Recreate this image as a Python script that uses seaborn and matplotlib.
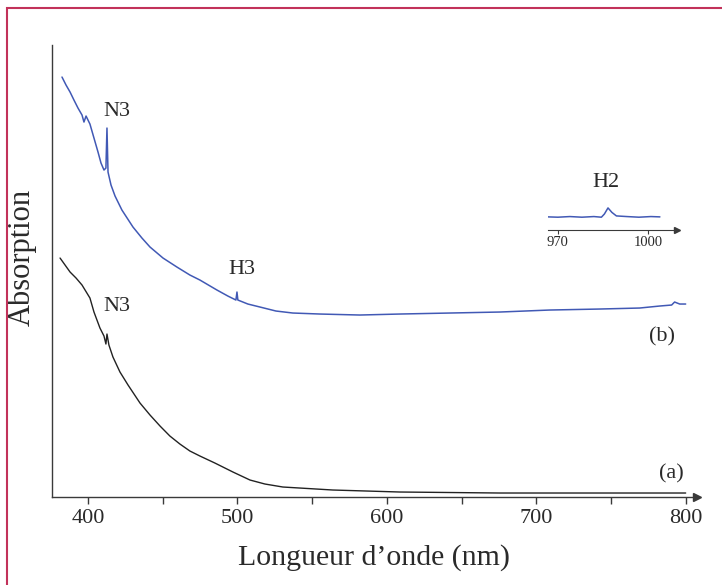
import seaborn as sns
import matplotlib.pyplot as plt
from matplotlib.patches import Rectangle

# spectrum (b), blue : wavelength (nm) / absorption (arb. units)
wl_b = [382.6, 385.3, 388.0, 390.6, 393.3, 396.0, 397.3, 398.7, 401.3, 404.0,
        406.7, 408.7, 410.7, 412.0, 412.7, 413.4, 415.4, 418.1, 422.7, 430.1,
        436.1, 441.5, 450.2, 459.5, 468.2, 474.9, 486.3, 493.6, 499.0, 499.7,
        500.3, 507.0, 515.1, 525.8, 537.1, 555.2, 581.9, 608.7, 642.1, 675.6,
        709.0, 742.5, 769.2, 782.6, 790.6, 792.6, 796.0, 800.0]
abs_b = [4.20, 4.12, 4.05, 3.97, 3.89, 3.82, 3.75, 3.81, 3.73, 3.59,
         3.45, 3.34, 3.27, 3.29, 3.69, 3.25, 3.12, 3.01, 2.87, 2.70,
         2.59, 2.50, 2.39, 2.30, 2.22, 2.17, 2.07, 2.01, 1.97, 2.05,
         1.97, 1.93, 1.90, 1.86, 1.84, 1.83, 1.82, 1.83, 1.84, 1.85,
         1.87, 1.88, 1.89, 1.91, 1.92, 1.95, 1.93, 1.93]

# spectrum (a), black
wl_a = [381.3, 388.0, 392.0, 396.0, 401.3, 404.0, 408.0, 410.7, 412.0, 412.7,
        414.0, 416.7, 421.4, 426.8, 434.8, 441.5, 448.2, 454.8, 461.5, 468.2,
        474.9, 484.9, 497.0, 508.4, 518.4, 530.4, 563.9, 608.7, 675.6, 742.5,
        800.0]
abs_a = [2.39, 2.25, 2.19, 2.12, 1.99, 1.85, 1.69, 1.61, 1.53, 1.63,
         1.52, 1.40, 1.25, 1.12, 0.94, 0.82, 0.71, 0.61, 0.53, 0.46,
         0.41, 0.34, 0.25, 0.17, 0.13, 0.10, 0.07, 0.05, 0.04, 0.04,
         0.04]

# inset, H2 line
wl_h2 = [966.7, 970.0, 974.0, 978.0, 982.0, 984.5, 985.5, 986.7, 988.0, 989.5,
         993.0, 997.0, 1001.0, 1004.0]
abs_h2 = [0.41, 0.40, 0.42, 0.40, 0.42, 0.40, 0.50, 0.69, 0.55, 0.44,
          0.42, 0.40, 0.42, 0.41]

sns.set_style("white")
plt.rcParams['font.family'] = ['Liberation Serif', 'DejaVu Serif']

blue = '#4159b5'
axc = '#3a3a3a'
txtc = '#2a2a2a'

fig = plt.figure(figsize=(7.22, 5.85), dpi=100)
fig.patches.append(Rectangle((0.0097, -0.2), 1.2, 1.186, transform=fig.transFigure,
                             fill=False, edgecolor='#c2325a', linewidth=1.5))

ax = fig.add_axes([0.072, 0.1504, 0.893, 0.7726])
sns.lineplot(x=wl_a, y=abs_a, ax=ax, color='#222222', linewidth=1.0, sort=False)
sns.lineplot(x=wl_b, y=abs_b, ax=ax, color=blue, linewidth=1.1, sort=False)
ax.set_xlim(375.9, 807.4)
ax.set_ylim(0, 4.52)
for s in ['top', 'right']:
    ax.spines[s].set_visible(False)
for s in ['left', 'bottom']:
    ax.spines[s].set_color(axc)
    ax.spines[s].set_linewidth(1.0)
ax.plot(1, 0, '>', color=axc, ms=6, transform=ax.get_yaxis_transform(), clip_on=False)
ax.plot(0, 1, '^', color=axc, ms=6, transform=ax.get_xaxis_transform(), clip_on=False)
ax.set_yticks([])
ax.set_xticks([400, 500, 600, 700, 800])
ax.set_xticks([450, 550, 650, 750], minor=True)
ax.tick_params(axis='x', which='both', direction='out', length=5, width=1,
               color=axc, labelsize=16, labelcolor=txtc, bottom=True)
ax.set_xlabel("Longueur d\u2019onde (nm)", fontsize=21.5, color=txtc, labelpad=12)
ax.set_ylabel("Absorption", fontsize=22, color=txtc, va='center', ha='center')
ax.yaxis.set_label_coords(-0.047, 0.529)

txt = dict(fontsize=16, color=txtc, ha='center', va='center')
ax.text(419.4, 3.86, 'N3', **txt)
ax.text(503.0, 2.28, 'H3', **txt)
ax.text(419.0, 1.91, 'N3', **txt)
ax.text(784.0, 1.60, '(b)', **txt)
ax.text(790.6, 0.23, '(a)', **txt)

# inset
ins = fig.add_axes([548 / 722, 1 - 230 / 585, 129 / 722, 32 / 585])
ins.patch.set_alpha(0)
sns.lineplot(x=wl_h2, y=abs_h2, ax=ins, color=blue, linewidth=1.1, sort=False)
ins.set_xlim(966.7, 1009.7)
ins.set_ylim(0, 1)
for s in ['top', 'right', 'left']:
    ins.spines[s].set_visible(False)
ins.spines['bottom'].set_color(axc)
ins.plot(1, 0, '>', color=axc, ms=5, transform=ins.get_yaxis_transform(), clip_on=False)
ins.set_yticks([])
ins.set_xticks([970, 1000])
ins.tick_params(axis='x', direction='out', length=3, color=axc, labelsize=10.5,
                labelcolor=txtc, pad=1, bottom=True)
ins.text(986.0, 1.47, 'H2', fontsize=16, color=txtc, ha='center', va='center')

fig.savefig('out.png', dpi=100)
